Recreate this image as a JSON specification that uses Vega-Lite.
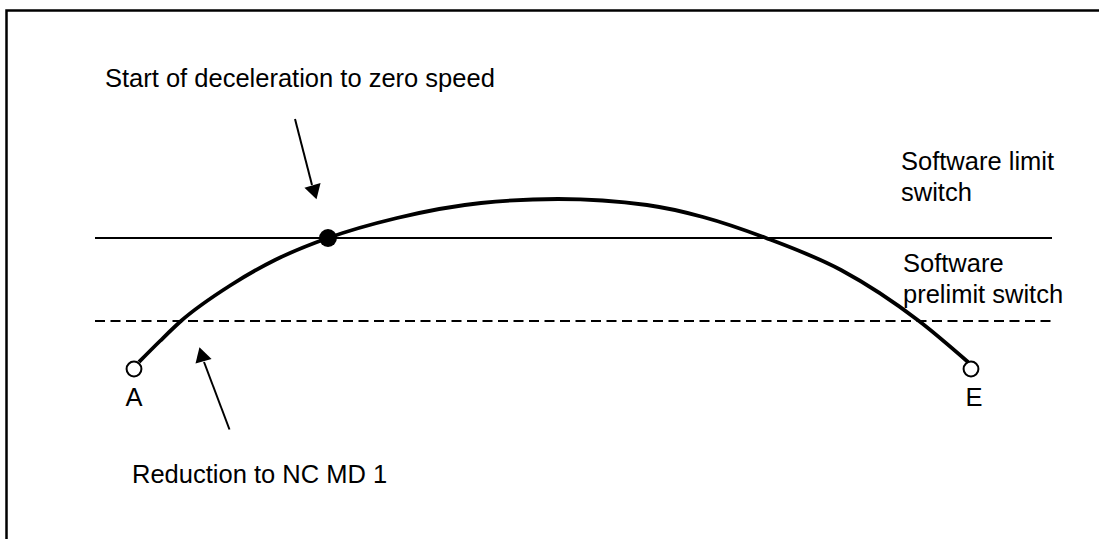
{
  "$schema": "https://vega.github.io/schema/vega-lite/v6.json",
  "width": 1099,
  "height": 539,
  "padding": 0,
  "autosize": {"type": "none"},
  "background": "white",
  "config": {"view": {"stroke": null}},
  "datasets": {
    "frame": [
      {"x": 6.5, "y": 539, "o": 0},
      {"x": 6.5, "y": 10.5, "o": 1},
      {"x": 1099, "y": 10.5, "o": 2}
    ],
    "limits": [
      {"line": "limit", "x1": 95, "x2": 1052, "y": 238},
      {"line": "prelimit", "x1": 95, "x2": 1052, "y": 321}
    ],
    "curve": [
      {"x": 139, "y": 362},
      {"x": 160, "y": 341},
      {"x": 181, "y": 321},
      {"x": 231, "y": 285},
      {"x": 275, "y": 260},
      {"x": 328, "y": 238},
      {"x": 397, "y": 218},
      {"x": 481, "y": 203},
      {"x": 558, "y": 199},
      {"x": 647, "y": 205},
      {"x": 703, "y": 217},
      {"x": 766, "y": 238},
      {"x": 841, "y": 270},
      {"x": 919, "y": 321},
      {"x": 968, "y": 362}
    ],
    "dot": [{"x": 328, "y": 238}],
    "ends": [
      {"name": "A", "x": 134, "y": 369},
      {"name": "E", "x": 971, "y": 369}
    ],
    "arrows": [
      {"x1": 295, "y1": 119, "x2": 312, "y2": 185},
      {"x1": 229.5, "y1": 429.5, "x2": 204, "y2": 362}
    ],
    "heads": [
      {"x": 314.5, "y": 192.3, "angle": 164},
      {"x": 201.5, "y": 354.3, "angle": 343.6}
    ],
    "labels": [
      {"text": "Start of deceleration to zero speed", "x": 105, "y": 87},
      {"text": "Software limit", "x": 901, "y": 170},
      {"text": "switch", "x": 901, "y": 201},
      {"text": "Software", "x": 903, "y": 272},
      {"text": "prelimit switch", "x": 903, "y": 303},
      {"text": "Reduction to NC MD 1", "x": 132, "y": 483}
    ],
    "points": [
      {"text": "A", "x": 134, "y": 406},
      {"text": "E", "x": 974, "y": 406}
    ]
  },
  "layer": [
    {
      "data": {"name": "frame"},
      "mark": {"type": "line", "color": "black", "strokeWidth": 2.5, "strokeCap": "square"},
      "encoding": {
        "x": {"field": "x", "type": "quantitative", "scale": {"domain": [0, 1099], "nice": false, "zero": false}, "axis": null},
        "y": {"field": "y", "type": "quantitative", "scale": {"domain": [0, 539], "nice": false, "zero": false, "reverse": true}, "axis": null},
        "order": {"field": "o", "type": "quantitative"}
      }
    },
    {
      "data": {"name": "limits"},
      "transform": [{"filter": "datum.line === 'limit'"}],
      "mark": {"type": "rule", "color": "black", "strokeWidth": 2},
      "encoding": {
        "x": {"field": "x1", "type": "quantitative", "axis": null},
        "x2": {"field": "x2"},
        "y": {"field": "y", "type": "quantitative", "axis": null}
      }
    },
    {
      "data": {"name": "limits"},
      "transform": [{"filter": "datum.line === 'prelimit'"}],
      "mark": {"type": "rule", "color": "black", "strokeWidth": 2, "strokeDash": [10, 5.5]},
      "encoding": {
        "x": {"field": "x1", "type": "quantitative", "axis": null},
        "x2": {"field": "x2"},
        "y": {"field": "y", "type": "quantitative", "axis": null}
      }
    },
    {
      "data": {"name": "curve"},
      "mark": {"type": "line", "color": "black", "strokeWidth": 3.8, "interpolate": "monotone"},
      "encoding": {
        "x": {"field": "x", "type": "quantitative", "axis": null},
        "y": {"field": "y", "type": "quantitative", "axis": null}
      }
    },
    {
      "data": {"name": "dot"},
      "mark": {"type": "point", "shape": "circle", "filled": true, "color": "black", "size": 320, "opacity": 1},
      "encoding": {
        "x": {"field": "x", "type": "quantitative", "axis": null},
        "y": {"field": "y", "type": "quantitative", "axis": null}
      }
    },
    {
      "data": {"name": "ends"},
      "mark": {"type": "point", "shape": "circle", "filled": false, "stroke": "black", "fill": "white", "fillOpacity": 1, "strokeWidth": 2, "size": 220, "opacity": 1},
      "encoding": {
        "x": {"field": "x", "type": "quantitative", "axis": null},
        "y": {"field": "y", "type": "quantitative", "axis": null}
      }
    },
    {
      "data": {"name": "arrows"},
      "mark": {"type": "rule", "color": "black", "strokeWidth": 2},
      "encoding": {
        "x": {"field": "x1", "type": "quantitative", "axis": null},
        "y": {"field": "y1", "type": "quantitative", "axis": null},
        "x2": {"field": "x2"},
        "y2": {"field": "y2"}
      }
    },
    {
      "data": {"name": "heads"},
      "mark": {"type": "point", "shape": "triangle-up", "filled": true, "color": "black", "size": 280, "opacity": 1},
      "encoding": {
        "x": {"field": "x", "type": "quantitative", "axis": null},
        "y": {"field": "y", "type": "quantitative", "axis": null},
        "angle": {"field": "angle", "type": "quantitative", "scale": null}
      }
    },
    {
      "data": {"name": "labels"},
      "mark": {"type": "text", "font": "Liberation Sans", "fontSize": 25.5, "color": "black", "baseline": "alphabetic", "align": "left"},
      "encoding": {
        "x": {"field": "x", "type": "quantitative", "axis": null},
        "y": {"field": "y", "type": "quantitative", "axis": null},
        "text": {"field": "text"}
      }
    },
    {
      "data": {"name": "points"},
      "mark": {"type": "text", "font": "Liberation Sans", "fontSize": 25.5, "color": "black", "baseline": "alphabetic", "align": "center"},
      "encoding": {
        "x": {"field": "x", "type": "quantitative", "axis": null},
        "y": {"field": "y", "type": "quantitative", "axis": null},
        "text": {"field": "text"}
      }
    }
  ]
}
